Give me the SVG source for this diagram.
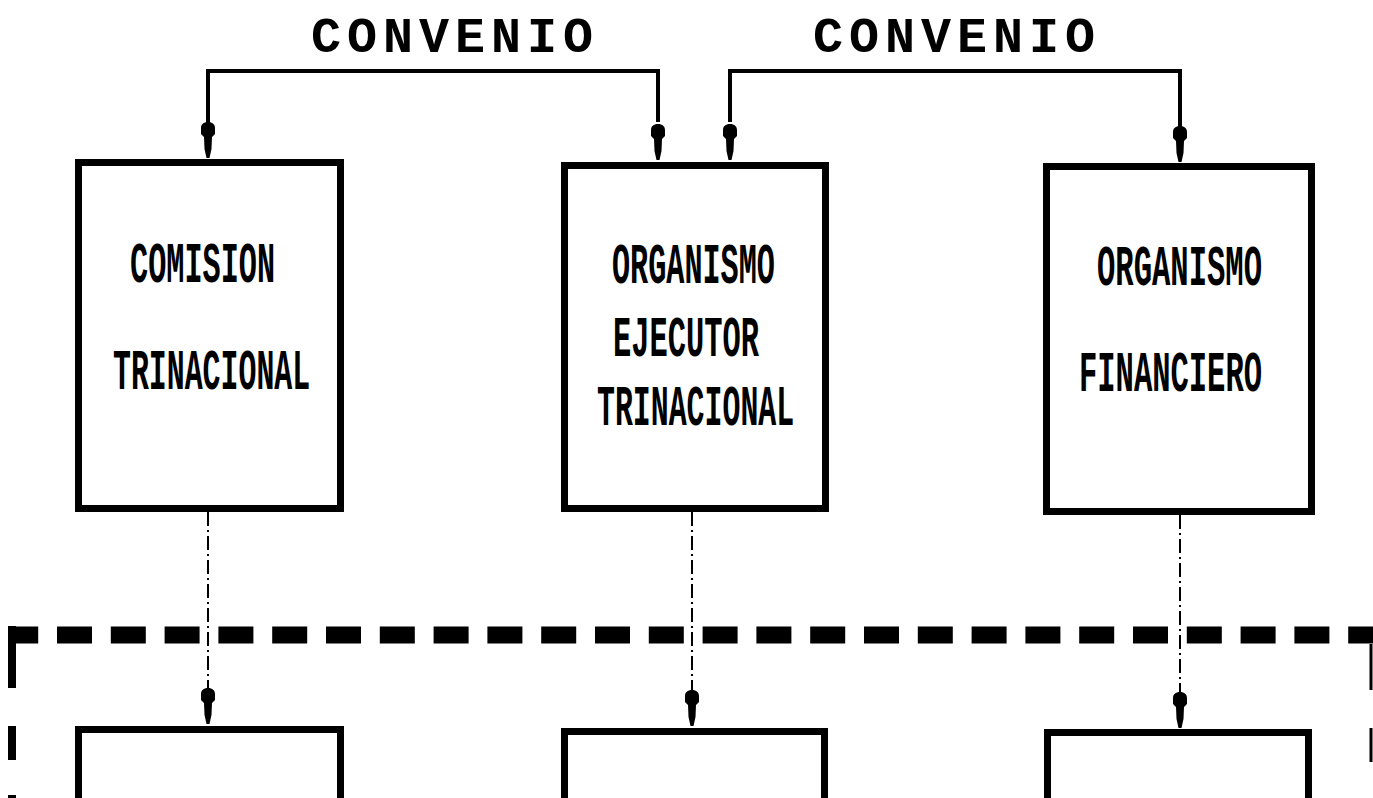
<svg xmlns="http://www.w3.org/2000/svg" xmlns:xlink="http://www.w3.org/1999/xlink" width="1373" height="798" viewBox="0 0 1373 798">
<style>
.box{fill:#fff;stroke:#000;stroke-width:7}
.lbl{font-family:"Liberation Mono","DejaVu Sans Mono",monospace;font-weight:bold;font-size:58px;fill:#000}
.title{font-family:"Liberation Mono","DejaVu Sans Mono",monospace;font-weight:bold;font-size:50px;fill:#000}
.solid{fill:none;stroke:#000;stroke-width:4}
.dashdot{fill:none;stroke:#000;stroke-width:2;stroke-dasharray:14 4 2 4}
.bound{fill:none;stroke:#000}
</style>
<defs>
<path id="ah" d="M0,0 C4.5,0 7,2.5 7,6 L7,12 L4,15 L3.5,27 L1.5,36 L-1.5,36 L-3.5,27 L-4,15 L-7,12 L-7,6 C-7,2.5 -4.5,0 0,0 Z" fill="#000"/>
</defs>
<rect width="1373" height="798" fill="#fff"/>

<g id="labels">
<text class="title" x="311" y="52" textLength="282" lengthAdjust="spacing">CONVENIO</text>
<text class="title" x="813" y="52" textLength="282" lengthAdjust="spacing">CONVENIO</text>
</g>

<g id="boundary">
<path class="bound" d="M8,635 H1373" stroke-width="17" stroke-dasharray="35 18.8" stroke-dashoffset="4.8"/>
<path class="bound" d="M12,626 V688 M12,726 V760 M12,795 V798" stroke-width="8"/>
<path class="bound" d="M1371,644 V690 M1371,728 V762" stroke-width="3"/>
</g>

<g id="node-comision">
<rect class="box" x="78.5" y="162.5" width="262" height="346"/>
<text class="lbl" transform="translate(130,282) scale(0.521,1)">COMISION</text>
<text class="lbl" transform="translate(113,389) scale(0.515,1)">TRINACIONAL</text>
</g>

<g id="node-ejecutor">
<rect class="box" x="564.5" y="165.5" width="261" height="343"/>
<text class="lbl" transform="translate(612,283) scale(0.52,1)">ORGANISMO</text>
<text class="lbl" transform="translate(613,356) scale(0.524,1)">EJECUTOR</text>
<text class="lbl" transform="translate(597,425) scale(0.515,1)">TRINACIONAL</text>
</g>

<g id="node-financiero">
<rect class="box" x="1046.5" y="166.5" width="265" height="345"/>
<text class="lbl" transform="translate(1097,285) scale(0.527,1)">ORGANISMO</text>
<text class="lbl" transform="translate(1079,391) scale(0.526,1)">FINANCIERO</text>
</g>

<g id="node-lower-1">
<rect class="box" x="78.5" y="729.5" width="262" height="120"/>
</g>
<g id="node-lower-2">
<rect class="box" x="564.5" y="731.5" width="260" height="120"/>
</g>
<g id="node-lower-3">
<rect class="box" x="1047.5" y="732.5" width="261" height="120"/>
</g>

<g id="connectors">
<path class="solid" d="M208,122 V71 H658 V122"/>
<use xlink:href="#ah" x="208" y="122"/>
<use xlink:href="#ah" x="658" y="124"/>
<path class="solid" d="M730,122 V71 H1180 V126"/>
<use xlink:href="#ah" x="730" y="124"/>
<use xlink:href="#ah" x="1180" y="126"/>
<path class="dashdot" d="M208,512 V688"/>
<use xlink:href="#ah" x="208" y="688"/>
<path class="dashdot" d="M692,512 V690"/>
<use xlink:href="#ah" x="692" y="690"/>
<path class="dashdot" d="M1180,515 V692"/>
<use xlink:href="#ah" x="1180" y="692"/>
</g>
</svg>
